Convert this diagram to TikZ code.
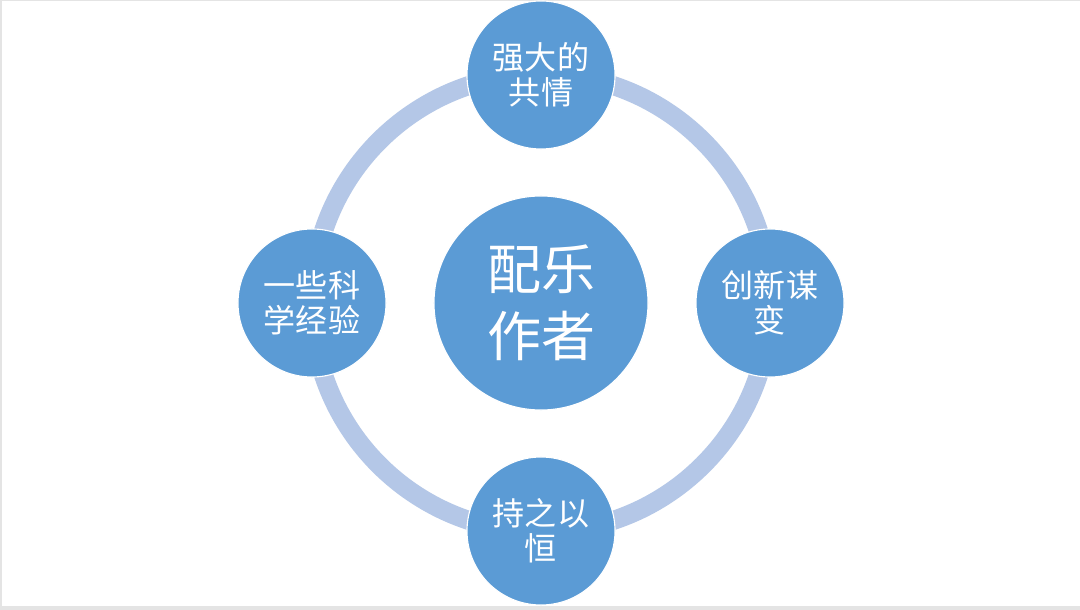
\documentclass[tikz,border=0pt]{standalone}
\usepackage{fontspec}
\newfontfamily\cjk{Noto Sans CJK SC}
\definecolor{petal}{HTML}{5B9BD5}
\definecolor{ringblue}{HTML}{B4C7E7}
\definecolor{frame}{HTML}{E4E4E4}

\begin{document}
\begin{tikzpicture}[x=0.025cm, y=-0.025cm,
	petal/.style={circle, fill=petal, draw=white, line width=0.8pt,
		minimum size=3.7cm, inner sep=0pt, text=white, align=center,
		font=\cjk\fontsize{22.8}{24.9}\selectfont},
	hub/.style={petal, minimum size=5.35cm,
		font=\cjk\fontsize{38.4}{47.7}\selectfont}]
	\fill[frame] (0,0) rectangle (1080,610);
	\fill[white] (2,1) rectangle (1080,606);
	\useasboundingbox (0,0) rectangle (1080,610);
	\coordinate (ringc) at (541,303);
	\draw[ringblue, line width=0.475cm] (ringc) circle (5.725cm);
	\node[hub] (zuozhe) at (ringc) {配乐\\作者};
	\node[petal] (gongqing) at (541,75) {强大的\\共情};
	\node[petal] (chuangxin) at (770,303) {创新谋\\变};
	\node[petal] (chizhi) at (541,531) {持之以\\恒};
	\node[petal] (jingyan) at (312,303) {一些科\\学经验};
\end{tikzpicture}
\end{document}
